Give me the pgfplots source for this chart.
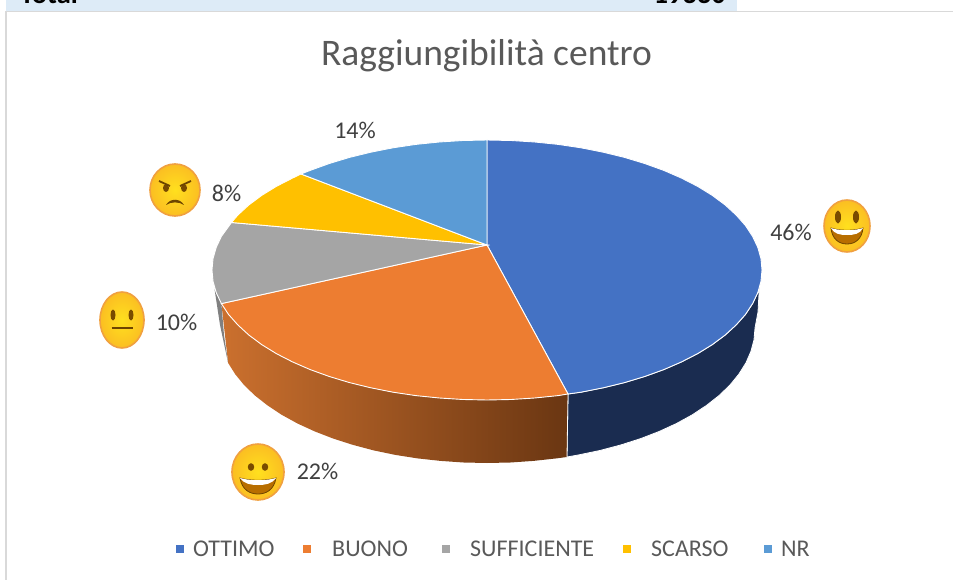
\documentclass[border=0pt]{standalone}
\usepackage{fontspec}
\setmainfont{Carlito}
\usepackage{pgfplots}
\pgfplotsset{compat=1.18}

\definecolor{cOttimo}{HTML}{4472C4}
\definecolor{cBuono}{HTML}{ED7D31}
\definecolor{cSuff}{HTML}{A5A5A5}
\definecolor{cScarso}{HTML}{FFC000}
\definecolor{cNr}{HTML}{5B9BD5}
\definecolor{cTitle}{HTML}{595959}
\definecolor{cLabel}{HTML}{404040}
\definecolor{faceIn}{HTML}{FFE01E}
\definecolor{faceOut}{HTML}{FBBE22}
\definecolor{faceEdge}{HTML}{F0A040}
\definecolor{faceDark}{HTML}{6E4500}
\definecolor{mouthIn}{HTML}{B86E00}

% emoji, drawn in pixels round their own centre
\newcommand\faceBase[2]{\shade[inner color=faceIn,outer color=faceOut,draw=faceEdge,line width=1.6pt] (0,0) ellipse (#1 and #2);}
\newcommand\emoBig{\begin{tikzpicture}[x=1pt,y=1pt]
  \faceBase{23}{26}
  \fill[mouthIn,draw=faceDark,line width=.8pt] (-16,-2) .. controls (-8,-5) and (8,-5) .. (16,-2) .. controls (15,-13) and (8,-18) .. (0,-18) .. controls (-8,-18) and (-15,-13) .. cycle;
  \fill[white] (-16,-2) .. controls (-8,-5) and (8,-5) .. (16,-2) .. controls (13,-8) and (7,-9) .. (0,-9) .. controls (-7,-9) and (-13,-8) .. cycle;
  \fill[faceDark!85!mouthIn] (-9,9) ellipse (3 and 6.5);
  \fill[faceDark!85!mouthIn] (9,9) ellipse (3 and 6.5);
\end{tikzpicture}}
\newcommand\emoSmile{\begin{tikzpicture}[x=1pt,y=1pt]
  \faceBase{26}{28}
  \fill[mouthIn,draw=faceDark,line width=.8pt] (-18,-6) .. controls (-8,-9) and (8,-9) .. (18,-6) .. controls (16,-18) and (8,-22) .. (0,-22) .. controls (-8,-22) and (-16,-18) .. cycle;
  \fill[white] (-18,-6) .. controls (-8,-9) and (8,-9) .. (18,-6) .. controls (14,-12) and (7,-13) .. (0,-13) .. controls (-7,-13) and (-14,-12) .. cycle;
  \fill[faceDark!85!mouthIn] (-7,5) ellipse (3.2 and 3.8);
  \fill[faceDark!85!mouthIn] (7,5) ellipse (3.2 and 3.8);
\end{tikzpicture}}
\newcommand\emoNeutral{\begin{tikzpicture}[x=1pt,y=1pt]
  \faceBase{22}{28}
  \fill[faceDark!85!mouthIn] (-9,5) ellipse (2.5 and 5.5);
  \fill[faceDark!85!mouthIn] (9,5) ellipse (2.5 and 5.5);
  \draw[faceDark,line width=2.6pt] (-10.5,-8) -- (10.5,-8);
\end{tikzpicture}}
\newcommand\emoAngry{\begin{tikzpicture}[x=1pt,y=1pt]
  \faceBase{25}{26}
  \fill[faceDark!85!mouthIn] (-9,2) ellipse (3 and 4);
  \fill[faceDark!85!mouthIn] (9,2) ellipse (3 and 4);
  \draw[faceDark,line width=1.8pt] (-16,9) -- (-5,4);
  \draw[faceDark,line width=1.8pt] (16,9) -- (5,4);
  \fill[faceDark] (-9,-15) .. controls (-5,-8) and (5,-8) .. (9,-15) .. controls (4,-11.5) and (-4,-11.5) .. cycle;
\end{tikzpicture}}

\begin{document}
\begin{tikzpicture}
\clip[use as bounding box] (0,0) rectangle (953pt,580pt);
\begin{axis}[
    at={(0,0)},
    anchor=south west,
    scale only axis,
    width=953pt,
    height=580pt,
    xmin=0, xmax=953,
    ymin=0, ymax=580,
    y dir=reverse,
    hide axis,
    clip=false,
]

% sheet behind the chart
\addplot[fill={rgb,255:red,221;green,235;blue,247}, draw=none] coordinates {(6,0) (737,0) (737,11) (6,11)} -- cycle;
\addplot[draw={rgb,255:red,217;green,217;blue,217}, line width=1.2pt] coordinates {(6,580) (6,11.5) (953,11.5)};

% sides of the pie
\addplot[fill={rgb,255:red,26;green,44;blue,80}, draw=white, line width=.8pt] coordinates {
  (568,394) (581,392.2) (603.2,387.8) (624.5,382.6) (644.7,376.5) (663.8,369.6) (681.5,361.9)
  (697.7,353.6) (712.3,344.6) (725.2,335) (736.2,324.9) (745.4,314.5) (752.6,303.6) (757.8,292.6) (759.3,288)
  (758,312) (755,328) (754,339.8) (750.9,351.4) (745.9,362.9) (738.8,374.2) (729.9,385.1) (719.1,395.5)
  (706.5,405.4) (692.3,414.8) (676.5,423.5) (659.3,431.4) (640.7,438.6) (621,444.9) (600.3,450.4) (578.7,454.9) (567,457)
} -- cycle;
\addplot[left color={rgb,255:red,203;green,112;blue,46}, right color={rgb,255:red,106;green,54;blue,18}, draw=none] coordinates {
  (221.4,303.6) (228.6,314.5) (237.8,324.9) (248.8,335) (261.7,344.6) (276.3,353.6) (292.5,361.9)
  (310.2,369.6) (329.3,376.5) (349.5,382.6) (370.8,387.8) (393,392.2) (415.8,395.6) (439.3,398)
  (463,399.5) (487,400) (511,399.5) (534.7,398) (558.2,395.6) (568,394)
  (567,457) (556.4,458.4) (533.5,460.9) (510.4,462.5) (487,463) (463.6,462.5) (440.5,460.9) (417.6,458.4)
  (395.3,454.9) (373.7,450.4) (353,444.9) (333.3,438.6) (314.7,431.4) (297.5,423.5) (281.7,414.8)
  (267.5,405.4) (254.9,395.5) (244.1,385.1) (235.2,374.2) (228.1,362.9)
} -- cycle;
\addplot[white, line width=.8pt] coordinates {(568,394) (567,457)};
\addplot[fill={rgb,255:red,128;green,128;blue,128}, draw=none] coordinates {
  (214.5,289) (216.2,292.6) (221.4,303.6) (224,335) (228.1,362.9) (220,325)
} -- cycle;

% top of the pie
\addplot[fill=cOttimo, draw=white, line width=.9pt] coordinates {
  (487,245) (487,140) (511,140.5) (534.7,142) (558.2,144.4) (581,147.8) (603.2,152.2) (624.5,157.4)
  (644.7,163.5) (663.8,170.4) (681.5,178.1) (697.7,186.4) (712.3,195.4) (725.2,205) (736.2,215.1)
  (745.4,225.5) (752.6,236.4) (757.8,247.4) (761,258.7) (762,270) (761,281.3) (757.8,292.6) (752.6,303.6)
  (745.4,314.5) (736.2,324.9) (725.2,335) (712.3,344.6) (697.7,353.6) (681.5,361.9) (663.8,369.6)
  (644.7,376.5) (624.5,382.6) (603.2,387.8) (581,392.2) (568,394)
} -- cycle;
\addplot[fill=cBuono, draw=white, line width=.9pt] coordinates {
  (487,245) (568,394) (558.2,395.6) (534.7,398) (511,399.5) (487,400) (463,399.5) (439.3,398) (415.8,395.6)
  (393,392.2) (370.8,387.8) (349.5,382.6) (329.3,376.5) (310.2,369.6) (292.5,361.9) (276.3,353.6)
  (261.7,344.6) (248.8,335) (237.8,324.9) (228.6,314.5) (221.4,303.6)
} -- cycle;
\addplot[fill=cSuff, draw=white, line width=.9pt] coordinates {
  (487,245) (221.4,303.6) (216.2,292.6) (213,281.3) (212,270) (213,258.7) (216.2,247.4) (221.4,236.4) (231.5,222.5)
} -- cycle;
\addplot[fill=cScarso, draw=white, line width=.9pt] coordinates {
  (487,245) (231.5,222.5) (237.8,215.1) (248.8,205) (261.7,195.4) (276.3,186.4) (292.5,178.1) (301,174)
} -- cycle;
\addplot[fill=cNr, draw=white, line width=.9pt] coordinates {
  (487,245) (301,174) (310.2,170.4) (329.3,163.5) (349.5,157.4) (370.8,152.2) (393,147.8) (415.8,144.4)
  (439.3,142) (463,140.5) (487,140)
} -- cycle;

% legend squares
\addplot[only marks, mark=square*, mark size=3.6pt, mark options={cOttimo, draw=none}] coordinates {(180,549)};
\addplot[only marks, mark=square*, mark size=3.6pt, mark options={cBuono, draw=none}] coordinates {(307,549)};
\addplot[only marks, mark=square*, mark size=3.6pt, mark options={cSuff, draw=none}] coordinates {(446,549)};
\addplot[only marks, mark=square*, mark size=3.6pt, mark options={cScarso, draw=none}] coordinates {(627,549)};
\addplot[only marks, mark=square*, mark size=3.6pt, mark options={cNr, draw=none}] coordinates {(768,549)};

% header row cut off by the picture
\node[anchor=base west, font=\fontsize{28.5}{28}\selectfont\bfseries, inner sep=0pt] at (axis cs:20,4) {Total};
\node[anchor=base east, font=\fontsize{28.5}{28}\selectfont\bfseries, inner sep=0pt] at (axis cs:726,4) {19330};

\node[font=\fontsize{37.5}{37}\selectfont, text=cTitle, inner sep=0pt] at (axis cs:486.5,56) {Raggiungibilità centro};

% percentages
\node[font=\fontsize{24}{24}\selectfont, text=cLabel, inner sep=0pt] at (axis cs:791,232) {46\%};
\node[font=\fontsize{24}{24}\selectfont, text=cLabel, inner sep=0pt] at (axis cs:317.5,471) {22\%};
\node[font=\fontsize{24}{24}\selectfont, text=cLabel, inner sep=0pt] at (axis cs:176.5,322) {10\%};
\node[font=\fontsize{24}{24}\selectfont, text=cLabel, inner sep=0pt] at (axis cs:226.5,193) {8\%};
\node[font=\fontsize{24}{24}\selectfont, text=cLabel, inner sep=0pt] at (axis cs:355,130) {14\%};

% legend labels
\node[anchor=west, font=\fontsize{24}{24}\selectfont, text=cTitle, inner sep=0pt] at (axis cs:193,549) {OTTIMO};
\node[anchor=west, font=\fontsize{24}{24}\selectfont, text=cTitle, inner sep=0pt] at (axis cs:332,549) {BUONO};
\node[anchor=west, font=\fontsize{24}{24}\selectfont, text=cTitle, inner sep=0pt] at (axis cs:470,549) {SUFFICIENTE};
\node[anchor=west, font=\fontsize{24}{24}\selectfont, text=cTitle, inner sep=0pt] at (axis cs:651,549) {SCARSO};
\node[anchor=west, font=\fontsize{24}{24}\selectfont, text=cTitle, inner sep=0pt] at (axis cs:781,549) {NR};

% emoji
\node[inner sep=0pt] at (axis cs:847,226) {\emoBig};
\node[inner sep=0pt] at (axis cs:258,472) {\emoSmile};
\node[inner sep=0pt] at (axis cs:122,320) {\emoNeutral};
\node[inner sep=0pt] at (axis cs:175,190) {\emoAngry};

\end{axis}
\end{tikzpicture}
\end{document}
